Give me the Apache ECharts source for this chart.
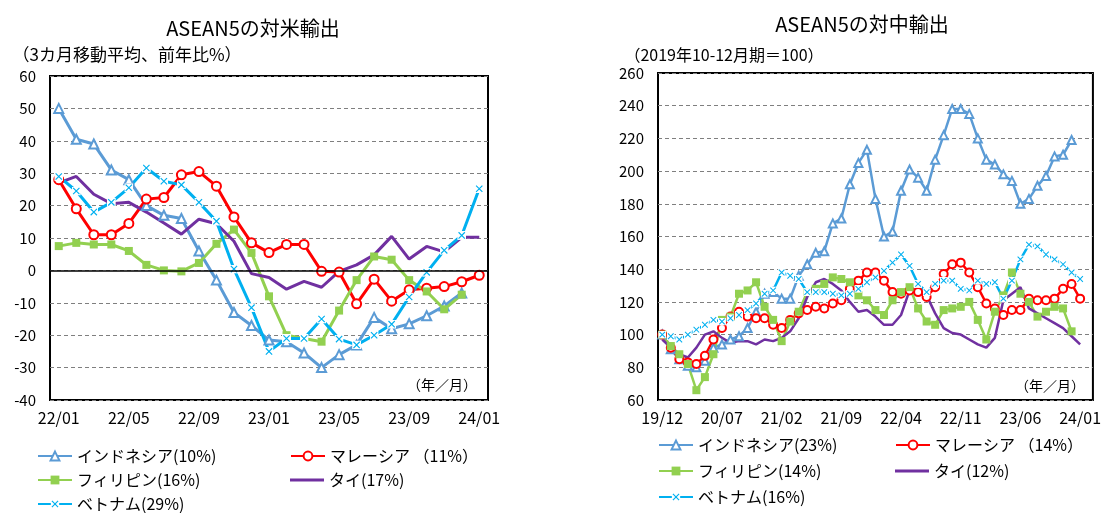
<!DOCTYPE html>
<html>
<head>
<meta charset="utf-8">
<script src="https://cdn.jsdelivr.net/npm/echarts@6/dist/echarts.min.js"></script>
<style>
  html, body { margin: 0; padding: 0; background: #fff; }
  #chart { width: 1104px; height: 513px; }
</style>
</head>
<body>
<div id="chart"></div>
<script>
// 対米輸出 (22/01 - 24/01), 3カ月移動平均・前年比%
var usMonths = ['22/01','22/02','22/03','22/04','22/05','22/06','22/07','22/08','22/09','22/10','22/11','22/12',
                '23/01','23/02','23/03','23/04','23/05','23/06','23/07','23/08','23/09','23/10','23/11','23/12','24/01'];
var idnUS = [50, 40.5, 39, 31, 28, 20, 17, 16, 6, -3, -13, -17, -21.5, -22, -25.5, -30, -26, -23, -14.5, -18, -16.5, -14, -11, -7, null];
var mysUS = [28, 19, 11, 11, 14.5, 22, 22.5, 29.5, 30.5, 26, 16.5, 8.5, 5.5, 8, 8, -0.3, -0.5, -10.3, -2.7, -9.5, -6, -5.5, -5, -3.5, -1.5];
var phlUS = [7.5, 8.5, 8, 8, 6, 1.7, 0, -0.3, 2.3, 8.2, 12.6, 5.4, -8, -20, -21, -22, -12.4, -3, 4.3, 3.3, -3, -6.5, -12, -7.5, null];
var thaUS = [27, 29, 23.5, 20.6, 21, 18, 14.6, 11.2, 15.8, 14.4, 9, -1, -2.2, -5.8, -3.4, -5.2, -0.3, 1.7, 4.8, 10.5, 3.5, 7.4, 5.7, 10.2, 10.2];
var vnmUS = [29, 24.5, 18, 21, 25.5, 31.6, 27.5, 26.4, 21, 15.2, 0.4, -11.5, -25, -21, -21, -15, -21.2, -23, -20, -16.6, -8.2, -0.6, 6.2, 10.8, 25.2];

// 対中輸出 (19/12 - 24/01), 2019年10-12月期=100 (最後の24/02は余白用)
var cnMonths = ['19/12',
  '20/01','20/02','20/03','20/04','20/05','20/06','20/07','20/08','20/09','20/10','20/11','20/12',
  '21/01','21/02','21/03','21/04','21/05','21/06','21/07','21/08','21/09','21/10','21/11','21/12',
  '22/01','22/02','22/03','22/04','22/05','22/06','22/07','22/08','22/09','22/10','22/11','22/12',
  '23/01','23/02','23/03','23/04','23/05','23/06','23/07','23/08','23/09','23/10','23/11','23/12',
  '24/01','24/02'];
var idnCN = [100, 91, 85, 81, 80, 84, 92, 94, 97, 99, 104, 114, 125, 126, 122, 122, 136, 143, 150, 151, 168, 171, 192, 205, 213,
             183, 160, 163, 188, 201, 196, 188, 207, 222, 238, 238, 235, 220, 207, 204, 198, 194, 180, 183, 191, 197, 209, 210, 219, null];
var mysCN = [100, 92, 85, 83, 82, 87, 97, 104, 111, 114, 111, 110, 110, 106, 104, 109, 113, 115, 117, 116, 119, 121, 128, 133, 138,
             138, 133, 126, 125, 127, 126, 123, 129, 137, 143, 144, 138, 129, 119, 116, 112, 115, 115, 122, 121, 121, 122, 128, 131, 122];
var phlCN = [100, 93, 88, 82, 66, 74, 88, 109, 111, 125, 127, 132, 117, 109, 96, 108, 114, 126, 128, 131, 135, 134, 132, 124, 121,
             115, 112, 121, 126, 129, 116, 108, 106, 115, 116, 117, 120, 109, 97, 114, 124, 138, 125, 120, 111, 114, 117, 116, 102, null];
var thaCN = [97, 92, 88, 86, 92, 100, 102, 98, 95, 96, 96, 94, 97, 96, 98, 102, 110, 123, 132, 134, 131, 127, 120, 114, 115,
             111, 106, 106, 112, 127, 128, 124, 113, 104, 101, 100, 97, 94, 92, 98, 121, 125, 129, 116, 113, 110, 107, 104, 99, 94];
var vnmCN = [100, 99, 97, 100, 103, 106, 109, 108, 110, 112, 115, 119, 125, 127, 138, 136, 134, 126, 126, 126, 125, 124, 125, 128, 132,
             135, 139, 144, 149, 142, 131, 126, 131, 133, 133, 128, 127, 133, 131, 132, 122, 133, 146, 155, 154, 149, 146, 143, 138, 134];

var usNames = ['インドネシア(10%)', 'マレーシア （11%）', 'フィリピン(16%)', 'タイ(17%)', 'ベトナム(29%)'];
var cnNames = ['インドネシア(23%)', 'マレーシア （14%）', 'フィリピン(14%)', 'タイ(12%)', 'ベトナム(16%)'];

var FONT = '"Noto Sans CJK JP", "Noto Sans", sans-serif';
var C_IDN = '#5B9BD5', C_MYS = '#FF0000', C_PHL = '#92D050', C_THA = '#7030A0', C_VNM = '#00B0F0';

// Excel風の×マーカー（白い四角の上に×）
var xMark = 'image://data:image/svg+xml;utf8,' + encodeURIComponent(
  '<svg xmlns="http://www.w3.org/2000/svg" width="20" height="20">' +
  '<rect width="20" height="20" fill="white"/>' +
  '<path d="M3 3L17 17M17 3L3 17" stroke="' + C_VNM + '" stroke-width="2.6"/></svg>');
// タイの凡例アイコン（線のみ）
var thaIcon = 'image://data:image/svg+xml;utf8,' + encodeURIComponent(
  '<svg xmlns="http://www.w3.org/2000/svg" width="34" height="11">' +
  '<rect x="0" y="4" width="34" height="3" fill="' + C_THA + '"/></svg>');

var chart = echarts.init(document.getElementById('chart'));

function xAxisOf(gi, cats, interval) {
  return {
    type: 'category', gridIndex: gi, data: cats, boundaryGap: true,
    axisLine: { show: false, onZero: false }, axisTick: { show: false },
    axisLabel: { interval: interval, margin: 10, fontSize: 16, color: '#000', fontFamily: FONT },
    splitLine: { show: false }
  };
}
function yAxisOf(gi, min, max, step) {
  return {
    type: 'value', gridIndex: gi, min: min, max: max, interval: step,
    axisLine: { show: false }, axisTick: { show: false },
    axisLabel: { margin: 14, fontSize: 15, color: '#000', fontFamily: FONT },
    splitLine: { show: true, lineStyle: { color: '#7f7f7f', type: [4, 3], width: 1 } }
  };
}
function lineSeries(name, gi, data, color, symbol, size, width) {
  return {
    name: name, type: 'line', xAxisIndex: gi, yAxisIndex: gi, data: data,
    symbol: symbol, symbolSize: size, showSymbol: symbol !== 'none', showAllSymbol: true,
    lineStyle: { color: color, width: width },
    itemStyle: { color: color, borderWidth: 1.5 },
    connectNulls: false, z: 3
  };
}

var series = [
  lineSeries(usNames[0], 0, idnUS, C_IDN, 'emptyTriangle', 9, 3),
  lineSeries(usNames[1], 0, mysUS, C_MYS, 'emptyCircle', 9, 3),
  lineSeries(usNames[2], 0, phlUS, C_PHL, 'rect', 8, 3),
  lineSeries(usNames[3], 0, thaUS, C_THA, 'none', 0, 3),
  lineSeries(usNames[4], 0, vnmUS, C_VNM, xMark, 9, 3),
  lineSeries(cnNames[0], 1, idnCN, C_IDN, 'emptyTriangle', 8, 2.5),
  lineSeries(cnNames[1], 1, mysCN, C_MYS, 'emptyCircle', 8, 2.5),
  lineSeries(cnNames[2], 1, phlCN, C_PHL, 'rect', 8, 2.5),
  lineSeries(cnNames[3], 1, thaCN, C_THA, 'none', 0, 2.5),
  lineSeries(cnNames[4], 1, vnmCN, C_VNM, xMark, 8, 2.5)
];
// ゼロ線
series[0].markLine = {
  silent: true, symbol: 'none', label: { show: false },
  lineStyle: { color: '#000', type: 'solid', width: 1.5 },
  data: [{ yAxis: 0 }]
};

// 凡例は1項目ずつ配置する
function legendOf(name, left, centerY, icon) {
  var lg = {
    data: [name], orient: 'horizontal', left: left, top: centerY - 8,
    itemWidth: 34, itemHeight: 11, padding: 0, selectedMode: false,
    textStyle: { fontSize: 16, lineHeight: 16, color: '#000', fontFamily: FONT }
  };
  if (icon) lg.icon = icon;
  return lg;
}

function label(text, x, y, size) {
  return {
    type: 'text', x: x, y: y, z: 10,
    style: { text: text, font: size + 'px ' + FONT, fill: '#000', align: 'center', verticalAlign: 'middle' }
  };
}

chart.setOption({
  animation: false,
  backgroundColor: '#fff',
  grid: [
    { left: 50, right: 616, top: 76, bottom: 113, show: true, borderColor: '#000', borderWidth: 2, containLabel: false },
    { left: 658, right: 9, top: 73, bottom: 113, show: true, borderColor: '#000', borderWidth: 2, containLabel: false }
  ],
  xAxis: [xAxisOf(0, usMonths, 3), xAxisOf(1, cnMonths, 6)],
  yAxis: [yAxisOf(0, -40, 60, 10), yAxisOf(1, 60, 260, 20)],
  legend: [
    legendOf(usNames[0], 37, 456),
    legendOf(usNames[1], 290, 456),
    legendOf(usNames[2], 37, 480),
    legendOf(usNames[3], 290, 480, thaIcon),
    legendOf(usNames[4], 37, 504),
    legendOf(cnNames[0], 658, 445),
    legendOf(cnNames[1], 895, 445),
    legendOf(cnNames[2], 658, 471),
    legendOf(cnNames[3], 895, 471, thaIcon),
    legendOf(cnNames[4], 658, 497)
  ],
  graphic: [
    label('ASEAN5の対米輸出', 253, 28, 20),
    label('（3カ月移動平均、前年比%）', 127, 55, 17),
    label('（年／月）', 442, 385, 14),
    label('ASEAN5の対中輸出', 862, 24, 20),
    label('（2019年10-12月期＝100）', 724, 55, 16),
    label('（年／月）', 1050, 386, 14)
  ],
  series: series
});
</script>
</body>
</html>
